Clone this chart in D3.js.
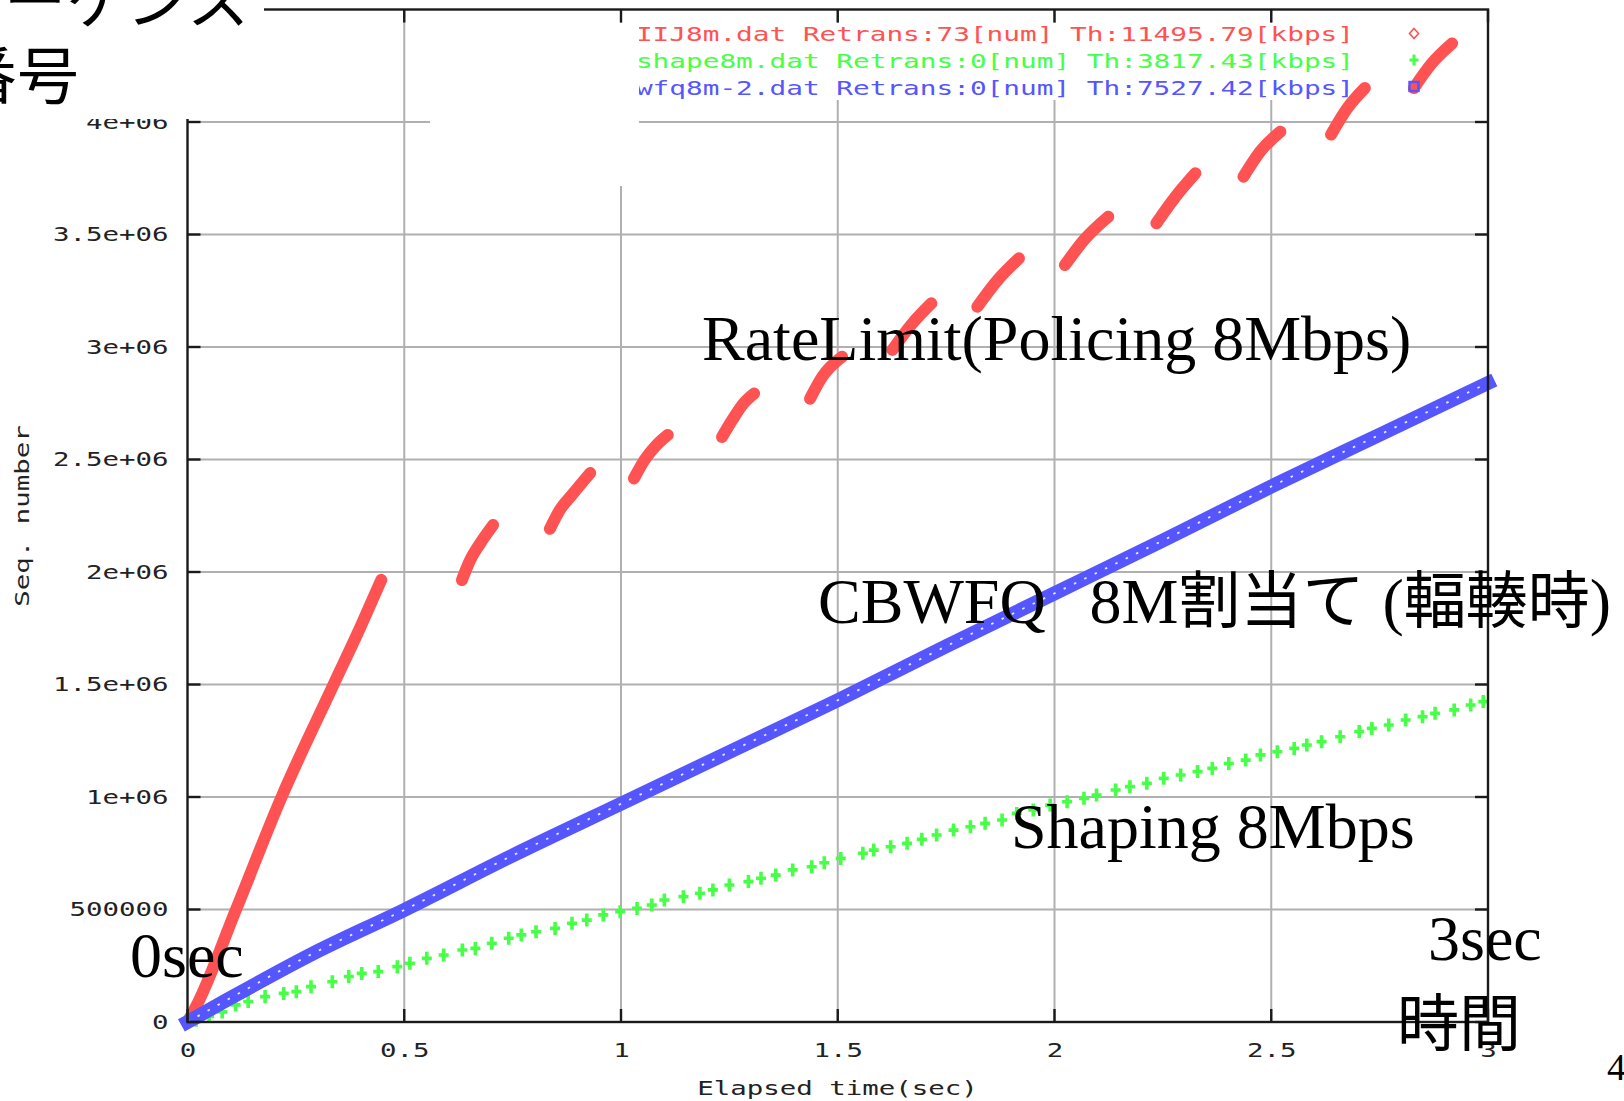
<!DOCTYPE html>
<html><head><meta charset="utf-8">
<script src="https://cdn.jsdelivr.net/npm/d3@7"></script>
<style>html,body{margin:0;padding:0;background:#fff;overflow:hidden}</style>
</head><body>
<svg id="c" width="1624" height="1101" xmlns="http://www.w3.org/2000/svg"></svg>
<script>
// ---------- data ----------
const xTicks = [0, 0.5, 1, 1.5, 2, 2.5, 3];
const xTickLabels = ["0", "0.5", "1", "1.5", "2", "2.5", "3"];
const yTicks = [0, 5e5, 1e6, 1.5e6, 2e6, 2.5e6, 3e6, 3.5e6, 4e6];
const yTickLabels = ["0", "500000", "1e+06", "1.5e+06", "2e+06", "2.5e+06", "3e+06", "3.5e+06", "4e+06"];
const xTitle = "Elapsed time(sec)";
const yTitle = "Seq. number";
const legendLabels = [
  "IIJ8m.dat Retrans:73[num] Th:11495.79[kbps]",
  "shape8m.dat Retrans:0[num] Th:3817.43[kbps]",
  "wfq8m-2.dat Retrans:0[num] Th:7527.42[kbps]"
];
// policing trace (IIJ8m) : bursts of transmission separated by gaps
const policeT = [
  [0, 0.02, 0.112, 0.217, 0.337, 0.40, 0.447],
  [0.633, 0.652, 0.675, 0.705],
  [0.836, 0.859, 0.890, 0.929],
  [1.030, 1.055, 1.080, 1.108],
  [1.233, 1.258, 1.283, 1.307],
  [1.436, 1.465, 1.510],
  [1.626, 1.670, 1.716],
  [1.822, 1.870, 1.918],
  [2.024, 2.070, 2.124],
  [2.235, 2.280, 2.325],
  [2.436, 2.475, 2.521],
  [2.638, 2.675, 2.716],
  [2.829, 2.870, 2.917]
];
const policeSeq = [
  [0, 70e3, 500e3, 1000e3, 1500e3, 1760e3, 1965e3],
  [1964e3, 2053e3, 2127e3, 2209e3],
  [2192e3, 2276e3, 2350e3, 2440e3],
  [2416e3, 2500e3, 2560e3, 2609e3],
  [2600e3, 2680e3, 2750e3, 2793e3],
  [2770e3, 2870e3, 2957e3],
  [2987e3, 3100e3, 3194e3],
  [3179e3, 3300e3, 3394e3],
  [3364e3, 3480e3, 3579e3],
  [3550e3, 3670e3, 3772e3],
  [3757e3, 3870e3, 3957e3],
  [3944e3, 4060e3, 4151e3],
  [4151e3, 4260e3, 4349e3]
];
// shaping trace (shape8m) : individual + markers
const shapeT = [0.02,0.05,0.08,0.111,0.140,0.179,0.222,0.251,0.285,0.334,0.372,0.402,0.440,0.484,0.513,0.552,0.591,0.634,0.664,0.702,0.741,0.770,0.804,0.848,0.887,0.921,0.959,0.998,1.037,1.071,1.100,1.144,1.182,1.212,1.250,1.294,1.323,1.357,1.396,1.440,1.469,1.507,1.558,1.583,1.622,1.660,1.694,1.728,1.767,1.806,1.840,1.879,1.913,1.951,1.990,2.029,2.068,2.097,2.141,2.174,2.213,2.252,2.291,2.330,2.364,2.402,2.441,2.475,2.514,2.553,2.582,2.616,2.659,2.703,2.732,2.771,2.810,2.849,2.878,2.922,2.960,2.989];
const shapeSeq = [8e3,25e3,45e3,76e3,91e3,113e3,127e3,135e3,157e3,179e3,202e3,216e3,224e3,246e3,261e3,283e3,298e3,320e3,327e3,350e3,372e3,387e3,401e3,416e3,439e3,453e3,476e3,490e3,505e3,520e3,542e3,557e3,572e3,587e3,609e3,624e3,639e3,653e3,676e3,690e3,708e3,727e3,750e3,764e3,779e3,794e3,812e3,831e3,853e3,868e3,883e3,898e3,927e3,942e3,964e3,979e3,994e3,1009e3,1031e3,1046e3,1061e3,1083e3,1098e3,1113e3,1127e3,1149e3,1164e3,1187e3,1201e3,1216e3,1231e3,1246e3,1268e3,1291e3,1305e3,1320e3,1342e3,1357e3,1372e3,1387e3,1409e3,1424e3];
// CBWFQ trace (wfq8m-2)
const wfqT = [0, 0.091, 0.285, 0.5, 0.75, 1.0, 1.25, 1.5, 1.75, 2.0, 2.25, 2.5, 2.75, 3.0];
const wfqSeq = [0, 98e3, 300e3, 498e3, 740e3, 970e3, 1200e3, 1430e3, 1670e3, 1905e3, 2140e3, 2380e3, 2610e3, 2840e3];
// annotations
const noteRate = "RateLimit(Policing 8Mbps)";
const noteShape = "Shaping 8Mbps";
const noteStart = "0sec";
const noteEnd = "3sec";
const noteTime = "時間";
const noteSeqLines = ["シーケンス", "番号"];
const pageNo = "4";

// ---------- drawing ----------
const RED = "#ff5252", GREEN = "#46ff46", BLUE = "#5656ff";
const MONO = "'DejaVu Sans Mono', monospace";
const SERIF = "'Liberation Serif', 'Times New Roman', serif";
const CJK = "'Noto Sans CJK JP', sans-serif";
const CHAR_W = 16.5;

const svg = d3.select("#c");
const x = d3.scaleLinear().domain([0, 3]).range([187.5, 1488]);
const y = d3.scaleLinear().domain([0, 4.5e6]).range([1022, 9.5]);

// grid
const grid = svg.append("g").attr("stroke", "#b0b0b0").attr("stroke-width", 2);
grid.selectAll("line.gx").data(xTicks.slice(1, -1)).join("line")
  .attr("x1", d => x(d)).attr("x2", d => x(d)).attr("y1", y(0)).attr("y2", y(4.5e6));
grid.selectAll("line.gy").data(yTicks.slice(1)).join("line")
  .attr("x1", x(0)).attr("x2", x(3)).attr("y1", d => y(d)).attr("y2", d => y(d));

// key background (opaque key)
svg.append("rect").attr("x", 430).attr("y", 23).attr("width", 1056).attr("height", 77).attr("fill", "#fff");

// policing bursts
const lineGen = d3.line().x(d => x(d[0])).y(d => y(d[1])).curve(d3.curveMonotoneX);
const bursts = policeT.map((ts, i) => d3.zip(ts, policeSeq[i]));
svg.append("g").selectAll("path").data(bursts).join("path")
  .attr("d", lineGen).attr("fill", "none").attr("stroke", RED)
  .attr("stroke-width", 12).attr("stroke-linecap", "round").attr("stroke-linejoin", "round");

// shaping markers
const shapePts = d3.zip(shapeT, shapeSeq);
svg.append("g").selectAll("path").data(shapePts).join("path")
  .attr("transform", d => `translate(${x(d[0])},${y(d[1])})`)
  .attr("d", "M-5,0H5M0,-6.5V6.5").attr("stroke", GREEN).attr("stroke-width", 3.6).attr("fill", "none");

// wfq band
const wfqPts = d3.zip(wfqT, wfqSeq);
const wfqLine = d3.line().x(d => x(d[0])).y(d => y(d[1])).curve(d3.curveMonotoneX);
svg.append("path").attr("d", wfqLine(wfqPts)).attr("fill", "none").attr("stroke", BLUE)
  .attr("stroke-width", 14).attr("stroke-linecap", "square").attr("stroke-linejoin", "round");
svg.append("path").attr("d", wfqLine(wfqPts)).attr("fill", "none").attr("stroke", "#fff")
  .attr("stroke-width", 1.8).attr("stroke-dasharray", "2.5 9").attr("opacity", 0.85);

// frame
const frame = svg.append("g").attr("stroke", "#1a1a1a").attr("stroke-width", 2.4).attr("fill", "none");
frame.append("rect").attr("x", x(0)).attr("y", y(4.5e6)).attr("width", x(3) - x(0)).attr("height", y(0) - y(4.5e6));
const TK = 13;
frame.selectAll("line.tb").data(xTicks).join("line")
  .attr("x1", d => x(d)).attr("x2", d => x(d)).attr("y1", y(0)).attr("y2", y(0) - TK);
frame.selectAll("line.tt").data(xTicks).join("line")
  .attr("x1", d => x(d)).attr("x2", d => x(d)).attr("y1", y(4.5e6)).attr("y2", y(4.5e6) + TK);
frame.selectAll("line.tl").data(yTicks).join("line")
  .attr("x1", x(0)).attr("x2", x(0) + TK).attr("y1", d => y(d)).attr("y2", d => y(d));
frame.selectAll("line.tr").data(yTicks).join("line")
  .attr("x1", x(3)).attr("x2", x(3) - TK).attr("y1", d => y(d)).attr("y2", d => y(d));

// tick labels via d3 axes
function styleMono(sel) {
  sel.attr("font-family", MONO).attr("font-size", 20).attr("fill", "#222")
    .attr("textLength", function () { return this.textContent.length * CHAR_W; })
    .attr("lengthAdjust", "spacingAndGlyphs");
}
const ax = svg.append("g").attr("transform", `translate(0,${y(0)})`)
  .call(d3.axisBottom(x).tickValues(xTicks).tickFormat((d, i) => xTickLabels[i]).tickSize(0).tickPadding(21));
ax.select(".domain").remove();
ax.selectAll("text").call(styleMono);
const ay = svg.append("g").attr("transform", `translate(${x(0)},0)`)
  .call(d3.axisLeft(y).tickValues(yTicks).tickFormat((d, i) => yTickLabels[i]).tickSize(0).tickPadding(19));
ay.select(".domain").remove();
ay.selectAll("text").call(styleMono);

// axis titles
svg.append("text").attr("x", 837.5).attr("y", 1095).attr("text-anchor", "middle").text(xTitle).call(styleMono);
svg.append("text").attr("transform", "translate(29,516) rotate(-90)").attr("text-anchor", "middle").text(yTitle).call(styleMono);

// legend
const legColors = [RED, GREEN, BLUE];
const leg = svg.append("g");
legendLabels.forEach((t, i) => {
  leg.append("text").attr("x", 1354).attr("y", 41 + 27 * i).attr("text-anchor", "end")
    .attr("font-family", MONO).attr("font-size", 20).attr("fill", legColors[i])
    .attr("textLength", t.length * 16.7).attr("lengthAdjust", "spacingAndGlyphs").text(t);
});
leg.append("path").attr("d", "M1414,28.5L1418.5,33.5L1414,38.5L1409.5,33.5Z").attr("fill", "none").attr("stroke", RED).attr("stroke-width", 1.6);
leg.append("path").attr("d", "M1409.5,60H1418.5M1414,54.5V65.5").attr("stroke", GREEN).attr("stroke-width", 3);
leg.append("rect").attr("x", 1409.5).attr("y", 82).attr("width", 9).attr("height", 9).attr("fill", "none").attr("stroke", BLUE).attr("stroke-width", 2.4);

// pasted white boxes
svg.append("rect").attr("x", 0).attr("y", 0).attr("width", 264).attr("height", 119).attr("fill", "#fff");
svg.append("rect").attr("x", 430).attr("y", 23).attr("width", 209).attr("height", 163).attr("fill", "#fff");

// annotations
const ann = svg.append("g").attr("fill", "#000");
ann.append("text").attr("x", 702).attr("y", 360).attr("font-family", SERIF).attr("font-size", 64).text(noteRate);
ann.append("text").attr("x", 1011).attr("y", 848).attr("font-family", SERIF).attr("font-size", 64).text(noteShape);
ann.append("text").attr("x", 130).attr("y", 977).attr("font-family", SERIF).attr("font-size", 64).text(noteStart);
ann.append("text").attr("x", 1428).attr("y", 960).attr("font-family", SERIF).attr("font-size", 64).text(noteEnd);
ann.append("text").attr("x", 1397).attr("y", 1046).attr("font-family", CJK).attr("font-size", 62).text(noteTime);
const cb = ann.append("text").attr("x", 818).attr("y", 623).attr("font-size", 64);
cb.append("tspan").attr("font-family", SERIF).text("CBWFQ");
cb.append("tspan").attr("font-family", SERIF).attr("dx", 44).text("8M");
cb.append("tspan").attr("font-family", CJK).attr("font-size", 62).text("割当て");
cb.append("tspan").attr("font-family", SERIF).attr("dx", 18).text("(");
cb.append("tspan").attr("font-family", CJK).attr("font-size", 62).text("輻輳時");
cb.append("tspan").attr("font-family", SERIF).text(")");
ann.append("text").attr("x", -58).attr("y", 24).attr("font-family", CJK).attr("font-size", 62).text(noteSeqLines[0]);
ann.append("text").attr("x", -45).attr("y", 99).attr("font-family", CJK).attr("font-size", 62).text(noteSeqLines[1]);
ann.append("text").attr("x", 1607).attr("y", 1080).attr("font-family", SERIF).attr("font-size", 38).text(pageNo);
</script>
</body></html>
